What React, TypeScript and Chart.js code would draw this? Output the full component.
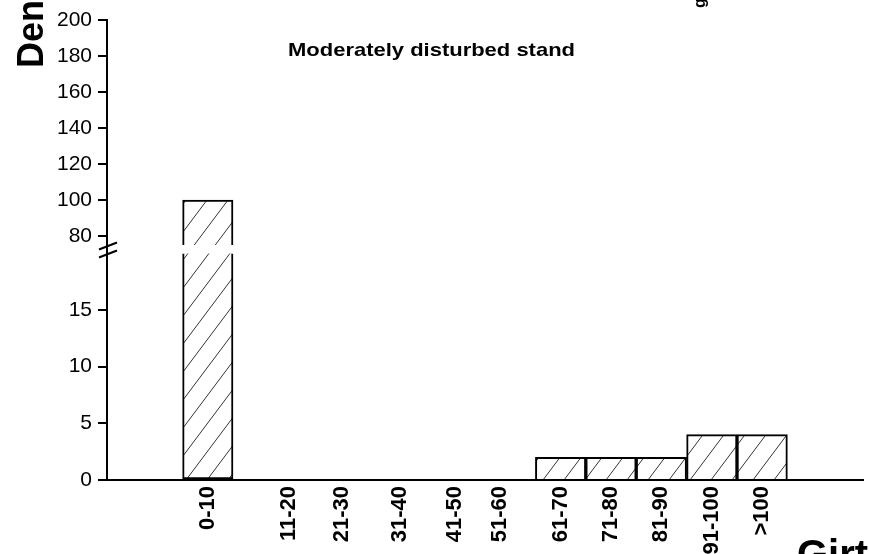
import React, { useEffect, useRef } from 'react';
import { Chart, registerables } from 'chart.js';

Chart.register(...registerables);

// ---- Data ----
const categories = ['0-10', '11-20', '21-30', '31-40', '41-50', '51-60', '61-70', '71-80', '81-90', '91-100', '>100'];
const xPositions = [0, 1.6, 2.67, 3.82, 4.91, 5.8, 7, 8, 9, 10, 11];
const densities = [100, 0, 0, 0, 0, 0, 2, 2, 2, 4, 4];
const lowerTicks = [0, 5, 10, 15];
const upperTicks = [80, 100, 120, 140, 160, 180, 200];
const breakLow = 20; // top of the lower segment of a broken bar
const breakHigh = 75; // bottom of the upper segment of a broken bar

const FAMILY = '"Liberation Sans", Arial, Helvetica, sans-serif';

function makeHatch(): CanvasPattern | string {
  const c = document.createElement('canvas');
  const w = 21;
  const h = 28;
  c.width = w;
  c.height = h;
  const g = c.getContext('2d');
  if (!g) return '#fff';
  g.fillStyle = '#fff';
  g.fillRect(0, 0, w, h);
  g.strokeStyle = '#333';
  g.lineWidth = 1;
  for (const off of [-w, 0, w]) {
    g.beginPath();
    g.moveTo(off, h);
    g.lineTo(off + w, 0);
    g.stroke();
  }
  return g.createPattern(c, 'repeat') || '#fff';
}

const annotations = {
  id: 'annotations',
  afterDraw(chart: any) {
    const ctx: CanvasRenderingContext2D = chart.ctx;
    const lower = chart.scales.yLower;
    const ax = chart.chartArea.left;
    const by = lower.top;
    ctx.save();
    ctx.fillStyle = '#000';
    ctx.strokeStyle = '#000';
    // axis break marks
    ctx.lineWidth = 2;
    for (const d of [-4, 4]) {
      ctx.beginPath();
      ctx.moveTo(ax - 8, by + d + 3.5);
      ctx.lineTo(ax + 10, by + d - 3.5);
      ctx.stroke();
    }
    // panel title
    ctx.font = `bold 19px ${FAMILY}`;
    ctx.textAlign = 'left';
    ctx.textBaseline = 'alphabetic';
    const title = 'Moderately disturbed stand';
    const tw = ctx.measureText(title).width;
    ctx.save();
    ctx.translate(288, 56);
    ctx.scale(287 / tw, 1);
    ctx.fillText(title, 0, 0);
    ctx.restore();
    // y axis title (cropped)
    ctx.save();
    ctx.font = `bold 36px ${FAMILY}`;
    ctx.translate(43, 68);
    ctx.rotate(-Math.PI / 2);
    ctx.fillText('Density', 0, 0);
    ctx.restore();
    // x axis title (cropped)
    ctx.font = `bold 40px ${FAMILY}`;
    ctx.fillText('Girth class (cm)', 797, 568);
    // fragment of a neighbouring label
    ctx.save();
    ctx.font = `bold 16px ${FAMILY}`;
    ctx.translate(705, 8);
    ctx.rotate(-Math.PI / 2);
    ctx.fillText('g', 0, 0);
    ctx.restore();
    ctx.restore();
  },
};

export default function App() {
  const ref = useRef<HTMLCanvasElement>(null);

  useEffect(() => {
    if (!ref.current) return;
    const hatch = makeHatch();
    const lowerData = xPositions.map((x, i) => ({ x, y: Math.min(densities[i], breakLow) }));
    const upperData = xPositions.map((x, i) => ({
      x,
      y: densities[i] > breakLow ? [breakHigh, densities[i]] : null,
    }));

    const yCommon = (ticks: number[]) => ({
      type: 'linear' as const,
      position: 'left' as const,
      stack: 'y',
      stackWeight: 1,
      afterBuildTicks: (s: any) => {
        s.ticks = ticks.map((v) => ({ value: v }));
      },
      grid: { drawOnChartArea: false, drawTicks: true, tickLength: 9, color: '#000', lineWidth: 2 },
      border: { display: true, color: '#000', width: 2 },
      ticks: { autoSkip: false, padding: 6, color: '#000', font: { family: FAMILY, size: 21 } },
      afterFit: (s: any) => {
        s.width = 107;
      },
    });

    const chart = new Chart(ref.current, {
      type: 'bar',
      data: {
        datasets: [
          {
            data: lowerData as any,
            yAxisID: 'yLower',
            backgroundColor: hatch as any,
            borderColor: '#000',
            borderWidth: 2,
            borderSkipped: ((c: any) => (densities[c.dataIndex] > breakLow ? 'top' : 'bottom')) as any,
            barThickness: 50.4,
            grouped: false,
          } as any,
          {
            data: upperData as any,
            yAxisID: 'yUpper',
            backgroundColor: hatch as any,
            borderColor: '#000',
            borderWidth: 2,
            borderSkipped: 'bottom',
            barThickness: 50.4,
            grouped: false,
          } as any,
        ],
      },
      options: {
        animation: false,
        responsive: false,
        devicePixelRatio: 1,
        layout: { padding: { top: 20, right: 6, left: 0, bottom: 0 } },
        plugins: { legend: { display: false }, tooltip: { enabled: false }, title: { display: false } },
        scales: {
          x: {
            type: 'linear',
            offset: false,
            min: -2,
            max: 13,
            grid: { display: false, drawTicks: false, offset: false },
            border: { display: true, color: '#000', width: 2 },
            afterBuildTicks: (s: any) => {
              s.ticks = xPositions.map((v) => ({ value: v }));
            },
            ticks: {
              autoSkip: false,
              minRotation: 90,
              maxRotation: 90,
              padding: 6,
              color: '#000',
              font: { family: FAMILY, size: 22, weight: 'bold' },
              callback: (_v: any, i: number) => categories[i],
            },
            afterFit: (s: any) => {
              s.height = 74;
            },
          } as any,
          yUpper: { ...yCommon(upperTicks), min: 72.2, max: 200, weight: 2 } as any,
          yLower: { ...yCommon(lowerTicks), min: 0, max: 20.3, weight: 1 } as any,
        },
      },
      plugins: [annotations],
    });
    return () => chart.destroy();
  }, []);

  return (
    <div style={{ position: 'fixed', left: 0, top: 0, width: 869, height: 554, background: '#fff' }}>
      <canvas ref={ref} width={869} height={554} style={{ display: 'block' }} />
    </div>
  );
}
